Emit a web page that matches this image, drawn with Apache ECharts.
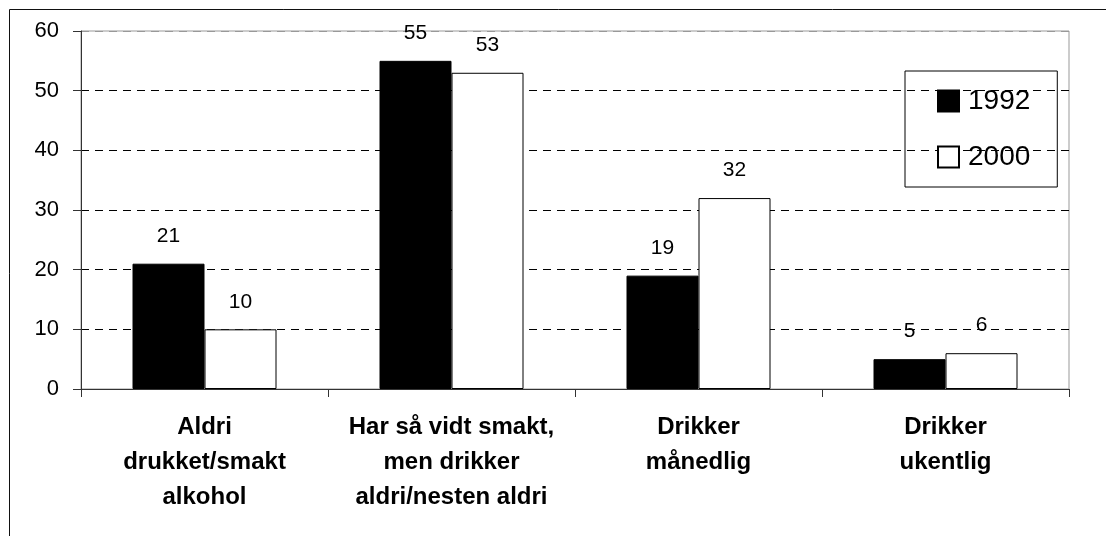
<!DOCTYPE html>
<html>
<head>
<meta charset="utf-8">
<script src="https://cdn.jsdelivr.net/npm/echarts@6/dist/echarts.min.js"></script>
<style>
  html, body { margin: 0; padding: 0; background: #fff; }
  #chart { width: 1106px; height: 536px; }
</style>
</head>
<body>
<div id="chart"></div>
<script>
const categories = [
  'Aldri\ndrukket/smakt\nalkohol',
  'Har så vidt smakt,\nmen drikker\naldri/nesten aldri',
  'Drikker\nmånedlig',
  'Drikker\nukentlig'
]
const values1992 = [21, 55, 19, 5]
const values2000 = [10, 53, 32, 6]
const yTicks = [0, 10, 20, 30, 40, 50, 60]

const font = 'Liberation Sans, Arial, sans-serif'
const chart = echarts.init(document.getElementById('chart'))

const label = {
  show: true,
  position: 'top',
  distance: 17,
  color: '#000',
  fontSize: 21,
  fontFamily: font
}

chart.setOption({
  animation: false,
  textStyle: { fontFamily: font },
  graphic: [{
    type: 'rect',
    shape: { x: 9.5, y: 9.5, width: 1200, height: 600 },
    style: { fill: 'none', stroke: '#111', lineWidth: 1 },
    silent: true
  }],
  grid: {
    left: 81,
    right: 37,
    top: 31,
    bottom: 147,
    show: true,
    borderColor: '#999',
    borderWidth: 1
  },
  legend: {
    orient: 'vertical',
    left: 905,
    top: 71,
    padding: [16, 27, 16, 32],
    itemWidth: 21,
    itemHeight: 21,
    itemGap: 28,
    borderColor: '#000',
    borderWidth: 1,
    icon: 'rect',
    textStyle: { fontSize: 28, color: '#000', fontFamily: font, padding: [0, 0, 0, 4] },
    data: ['1992', '2000']
  },
  xAxis: {
    type: 'category',
    data: categories,
    axisLine: { lineStyle: { color: '#333', width: 1 } },
    axisTick: { show: true, interval: 0, length: 8, lineStyle: { color: '#333' } },
    axisLabel: {
      interval: 0,
      margin: 21,
      color: '#000',
      fontSize: 24,
      fontWeight: 'bold',
      lineHeight: 35,
      fontFamily: font
    }
  },
  yAxis: {
    type: 'value',
    min: yTicks[0],
    max: yTicks[yTicks.length - 1],
    interval: 10,
    axisLine: { show: true, lineStyle: { color: '#333', width: 1 } },
    axisTick: { show: true, length: 8, lineStyle: { color: '#333' } },
    axisLabel: { margin: 22, color: '#000', fontSize: 22, fontFamily: font },
    splitLine: {
      show: true,
      lineStyle: {
        color: ['#000', '#000', '#000', '#000', '#000', '#000', '#999'],
        type: [8, 6],
        width: 1
      }
    }
  },
  series: [
    {
      name: '1992',
      type: 'bar',
      data: values1992,
      barWidth: 72,
      barGap: '0%',
      itemStyle: { color: '#000', borderColor: '#000', borderWidth: 1 },
      label: label
    },
    {
      name: '2000',
      type: 'bar',
      data: values2000,
      barWidth: 72,
      itemStyle: { color: '#fff', borderColor: '#000', borderWidth: 1 },
      label: label
    }
  ]
})
</script>
</body>
</html>
